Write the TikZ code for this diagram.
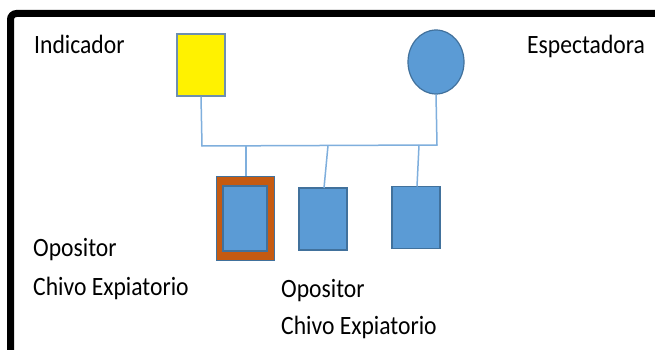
\documentclass[tikz,border=0pt]{standalone}
\usepackage{fontspec}
\setmainfont{Carlito}
\usetikzlibrary{shapes.geometric}
\definecolor{boxblue}{HTML}{5B9BD5}
\definecolor{boxedge}{HTML}{41719C}
\definecolor{linkblue}{HTML}{7FAFDD}
\definecolor{orangeedge}{HTML}{C55A11}
\definecolor{yellowedge}{HTML}{6D8FB0}
\begin{document}
\begin{tikzpicture}[x=1pt,y=-1pt,
  lbl/.style={anchor=base west,inner sep=0pt,font=\fontsize{23.6}{26}\selectfont},
  person/.style={draw=boxedge,fill=boxblue,line width=1.2pt,inner sep=0pt},
  link/.style={draw=linkblue,line width=1.5pt}]
\useasboundingbox (0,0) rectangle (655,350);
\fill[white] (0,0) rectangle (655,350);
\draw[line width=7pt,rounded corners=6pt] (10.5,352) -- (10.5,13.5) -- (660,13.5);
% parents
\node[draw=yellowedge,fill=yellow,line width=1.2pt,minimum width=48pt,minimum height=62pt,inner sep=0pt] (ind) at (201,65) {};
\node[person,ellipse,minimum width=56pt,minimum height=64pt] (esp) at (436,62) {};
% children
\node[draw=boxedge,fill=orangeedge,line width=1pt,minimum width=58pt,minimum height=84pt,inner sep=0pt] (c1) at (245,218.5) {};
\node[person,minimum width=44pt,minimum height=65pt] (c1in) at (245,218.5) {};
\node[person,minimum width=48pt,minimum height=62pt] (c2) at (323,219) {};
\node[person,minimum width=48pt,minimum height=62pt] (c3) at (416,217.5) {};
% connectors
\coordinate (jl) at (202,146);
\coordinate (jr) at (437,145);
\coordinate (j1) at (246,146);
\coordinate (j2) at (328,145.5);
\coordinate (j3) at (419,145);
\coordinate (e2) at (324,188);
\coordinate (e3) at (417,186.5);
\draw[link] (ind.south) -- (jl) -- (jr) -- (esp.south);
\draw[link] (j1) -- (c1.north -| j1);
\draw[link] (j2) -- (e2);
\draw[link] (j3) -- (e3);
% labels
\node[lbl] (t1) at (34,54) {\scalebox{1}[1.12]{Indicador}};
\node[lbl] (t2) at (527,54) {\scalebox{1}[1.12]{Espectadora}};
\node[lbl] (t3) at (33,256) {\scalebox{1}[1.12]{Opositor}};
\node[lbl] (t4) at (33,295) {\scalebox{1}[1.12]{Chivo Expiatorio}};
\node[lbl] (t5) at (281,297) {\scalebox{1}[1.12]{Opositor}};
\node[lbl] (t6) at (281,334) {\scalebox{1}[1.12]{Chivo Expiatorio}};
\end{tikzpicture}
\end{document}
